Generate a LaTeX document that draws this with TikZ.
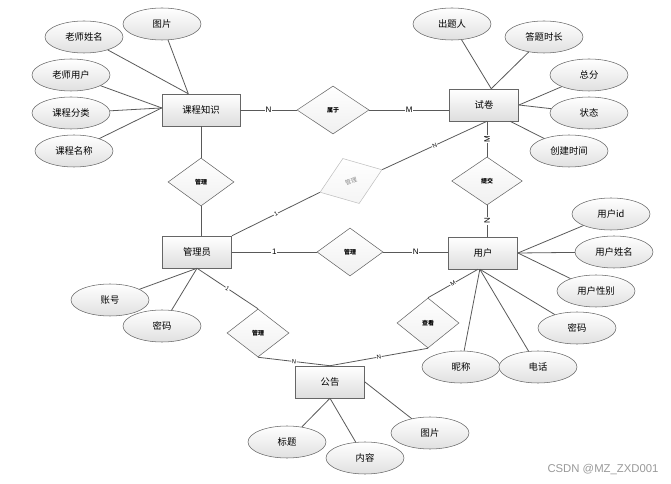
\documentclass[tikz,border=0pt]{standalone}
\usepackage{fontspec}
\setmainfont{Noto Sans CJK SC}
\newfontfamily\markfont{Liberation Sans}
\usetikzlibrary{shapes.geometric, positioning}

\begin{document}
\begin{tikzpicture}[
    x=0.75pt, y=-0.75pt,
    entity/.style={draw=black!60, rectangle, top color=white, bottom color=black!13,
        minimum width=52pt, minimum height=24pt, inner sep=0pt, font=\fontsize{7}{8}\selectfont},
    attr/.style={draw=black!60, ellipse, top color=white, bottom color=black!12,
        minimum width=58.5pt, minimum height=24pt, inner sep=0pt, font=\fontsize{7}{8}\selectfont},
    rel/.style={draw=black!60, diamond, top color=white, bottom color=black!6,
        minimum width=49.5pt, minimum height=36pt, inner sep=0pt, font=\fontsize{4.5}{5}\selectfont\bfseries},
    link/.style={draw=black!65, line width=0.6pt},
    lbl/.style={font=\fontsize{6}{6}\markfont, fill=white, inner sep=0.6pt},
    lbls/.style={font=\fontsize{4.5}{5}\markfont, fill=white, inner sep=0.4pt}
]

\useasboundingbox (0,0) rectangle (671,484);

% entities
\node[entity, minimum width=58.5pt] (kczs) at (201,110) {课程知识};
\node[entity] (sj)  at (484,105) {试卷};
\node[entity] (gly) at (197,252) {管理员};
\node[entity] (yh)  at (483,253) {用户};
\node[entity] (gg)  at (330,382) {公告};

% attributes
\node[attr] (kcTp) at (162,24)  {图片};
\node[attr] (kcXm) at (84,37)   {老师姓名};
\node[attr] (kcYh) at (71,75)   {老师用户};
\node[attr] (kcFl) at (71,113)  {课程分类};
\node[attr] (kcMc) at (74,151)  {课程名称};

\node[attr] (sjCt) at (452,24)  {出题人};
\node[attr] (sjSc) at (544,37)  {答题时长};
\node[attr] (sjZf) at (589,75)  {总分};
\node[attr] (sjZt) at (589,113) {状态};
\node[attr] (sjCj) at (569,151) {创建时间};

\node[attr] (yhId) at (611,214) {用户id};
\node[attr] (yhXm) at (614,252) {用户姓名};
\node[attr] (yhXb) at (596,291) {用户性别};
\node[attr] (yhMm) at (577,328) {密码};
\node[attr] (yhNc) at (461,367) {昵称};
\node[attr] (yhDh) at (538,367) {电话};

\node[attr] (glZh) at (110,300) {账号};
\node[attr] (glMm) at (162,326) {密码};

\node[attr] (ggBt) at (287,442) {标题};
\node[attr] (ggNr) at (365,458) {内容};
\node[attr] (ggTp) at (430,433) {图片};

% relations
\node[rel, minimum width=54pt] (rShuyu) at (333,110) {属于};
\node[rel] (rGl1) at (201,182) {管理};
\node[rel, rotate=20, draw=black!25, top color=white, bottom color=black!4,
      text=black!45, font=\fontsize{4.5}{5}\selectfont] (rGl2) at (351,181) {管理};
\node[rel, minimum width=53pt] (rTj) at (487,181) {提交};
\node[rel] (rGl3) at (350,252) {管理};
\node[rel, minimum width=46.5pt, minimum height=37.5pt] (rCk) at (428,323) {查看};
\node[rel, minimum width=46.5pt] (rGl4) at (258,333) {管理};

% attribute links
\draw[link] (kcTp) -- (kczs.128);
\draw[link] (kcXm) -- (kczs.128);
\draw[link] (kcYh) -- (kczs.177);
\draw[link] (kcFl) -- (kczs.177);
\draw[link] (kcMc) -- (kczs.177);

\draw[link] (sjCt) -- (sj.66);
\draw[link] (sjSc) -- (sj.66);
\draw[link] (sjZf) -- (sj.east);
\draw[link] (sjZt) -- (sj.east);
\draw[link] (sjCj) -- (sj.-32);

\draw[link] (yhId) -- (yh.east);
\draw[link] (yhXm) -- (yh.east);
\draw[link] (yhXb) -- (yh.east);
\draw[link] (yhMm) -- (yh.-101);
\draw[link] (yhNc) -- (yh.-101);
\draw[link] (yhDh) -- (yh.-101);

\draw[link] (glZh) -- (gly.south);
\draw[link] (glMm) -- (gly.south);

\draw[link] (ggBt) -- (gg.south);
\draw[link] (ggNr) -- (gg.south);
\draw[link] (ggTp) -- (gg.east);

% relation links
\draw[link] (kczs.east) -- node[lbl]{N} (rShuyu.west);
\draw[link] (rShuyu.east) -- node[lbl]{M} (rShuyu.east -| sj.west);
\draw[link] (kczs.south) -- (rGl1.north);
\draw[link] (rGl1.south) -- (rGl1.south |- gly.north);

\draw[link] (rTj.north |- sj.south) -- node[lbls, sloped]{N} (rGl2.east);
\draw[link] (rGl2.west) -- node[lbls, sloped]{1} (gly.north east);

\draw[link] (rTj.north |- sj.south) -- node[lbl, rotate=90]{M} (rTj.north);
\draw[link] (rTj.south) -- node[lbl, rotate=90]{N} (rTj.south |- yh.north);

\draw[link] (gly.east) -- node[lbl]{1} (rGl3.west);
\draw[link] (rGl3.east) -- node[lbl]{N} (rGl3.east -| yh.west);

\draw[link] (yh.-107) -- node[lbls, sloped]{M} (rCk.north);
\draw[link] (rCk.south) -- node[lbls, sloped]{N} (gg.north);

\draw[link] (gly.south) -- node[lbls, sloped]{1} (rGl4.north);
\draw[link] (rGl4.south) -- node[lbls, sloped]{N} (gg.north);

\node[font=\fontsize{8.5}{9}\markfont, text=black!40] (mark) at (603,470) {CSDN @MZ\_ZXD001};

\end{tikzpicture}
\end{document}
